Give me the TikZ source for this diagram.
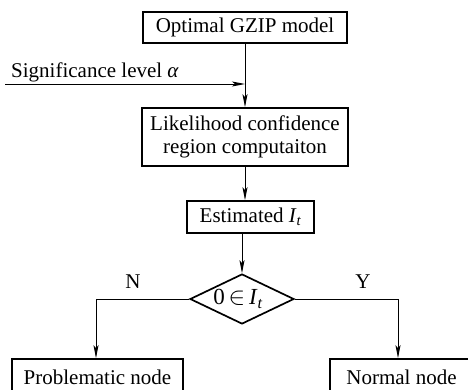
\documentclass[tikz,border=0pt]{standalone}
\usepackage{amsmath}
\usepackage{fontspec}
\setmainfont{Liberation Serif}
\usetikzlibrary{shapes.geometric,arrows.meta}
\begin{document}
\begin{tikzpicture}[x=1pt,y=-1pt,
  font=\fontsize{21}{23}\selectfont,
  box/.style={draw,line width=1.7pt,inner sep=0pt,align=center},
  decision/.style={draw,diamond,line width=1.7pt,inner sep=0pt,aspect=2.12,
    minimum width=104pt,minimum height=50pt},
  conn/.style={line width=0.9pt,-{Stealth[length=13pt,width=5pt,inset=3pt]}},
  lbl/.style={inner sep=0pt}]
\useasboundingbox (0,0) rectangle (468,389);
\clip (0,0) rectangle (468,389);

% main column
\node[box,minimum width=204pt,minimum height=31pt] (model) at (245,27.5) {Optimal GZIP model};
\node[box,minimum width=206pt,minimum height=58pt] (region) at (245,137)
  {Likelihood confidence\\region computaiton};
\node[box,minimum width=127pt,minimum height=32pt] (est) at (250.5,217)
  {Estimated \textit{I}$_{\textit{t}}$};
\node[decision] (test) at (242,299) {\hspace*{-8pt}\fontsize{23}{23}\selectfont 0\,$\in$\,\textit{I}$_{\textit{t}}$};

% outcomes (cut by the lower border)
\node[box,minimum width=171pt,minimum height=36pt] (bad) at (97.5,377) {Problematic node};
\node[box,minimum width=143pt,minimum height=36pt] (good) at (401.5,377) {Normal node};

% significance input
\coordinate (sigstart) at (5,84);
\coordinate (join) at (245,84);
\node[lbl,anchor=base west] (sig) at (11,77) {Significance level \textit{α}};

% connectors
\draw[conn] (sigstart) -- (join);
\draw[conn] (model.south -| join) -- (region.north -| join);
\draw[conn] (region.south -| join) -- (est.north -| join);
\draw[conn] (est.south -| test.north) -- (test.north);
\draw[conn] (test.west) -| (bad.north -| 96,0);
\draw[conn] (test.east) -| (good.north -| 398,0);

\node[lbl] (no) at (133,282) {N};
\node[lbl] (yes) at (363,282) {Y};
\end{tikzpicture}
\end{document}
